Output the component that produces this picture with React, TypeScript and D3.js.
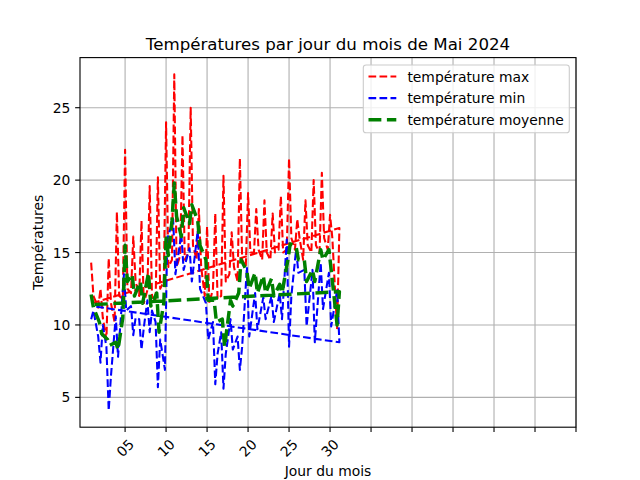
import React from "react";
import * as d3 from "d3";

// ---- Data ----
const jours = [1, 2, 3, 4, 5, 6, 7, 8, 9, 10, 11, 12, 13, 14, 15, 16, 17, 18, 19, 20, 21, 22, 23, 24, 25, 26, 27, 28, 29, 30, 31];

// values visited for each day, in order (several readings per day)
const tMax: number[][] = [
  [14.3, 12.0], [11.2, 12.5, 10.5], [9.0, 14.6, 11.5], [10.2, 17.8, 12.0], [11.8, 22.1, 12.5],
  [12.2, 16.1, 13.0], [12.0, 17.2, 11.5], [12.4, 19.6, 12.0], [11.6, 20.2, 12.5], [13.0, 24.0, 14.0],
  [14.5, 27.3, 14.0], [14.8, 23.1, 14.5], [15.0, 25.0, 15.5], [14.5, 18.0, 14.0], [12.0, 16.8, 11.5],
  [12.5, 17.7, 11.8], [12.0, 20.3, 13.0], [13.5, 16.4, 14.0], [13.0, 21.5, 14.5], [14.0, 19.1, 15.0],
  [15.0, 18.0, 15.2], [14.5, 18.6, 15.0], [14.5, 17.7, 15.0], [15.2, 18.9, 15.0], [15.2, 21.5, 16.0],
  [15.2, 17.3, 16.0], [14.5, 18.6, 15.5], [15.0, 20.0, 15.5], [15.0, 20.5, 16.0], [15.2, 17.6, 16.0],
  [9.7, 16.7],
];
const tMaxRetour = 11.5;

const tMin: number[][] = [
  [10.4, 11.0], [9.2, 7.4, 10.0], [8.5, 4.1, 6.5], [10.6, 7.8], [13.5, 11.0],
  [11.3, 9.3, 10.5], [10.4, 8.3, 9.8], [11.7, 9.5, 11.0], [10.2, 5.7, 9.0], [6.9, 15.9],
  [17.3, 13.5], [16.3, 13.8], [15.3, 13.0], [16.5, 12.5], [11.5, 9.0],
  [10.2, 5.9, 8.0], [9.5, 5.6, 8.0], [10.4, 8.3], [9.2, 6.9, 8.5], [14.0, 9.2],
  [12.2, 9.7], [11.9, 10.4], [12.0, 10.2], [12.2, 10.4], [15.9, 8.5, 12.0],
  [15.2, 13.6], [13.8, 9.9], [13.8, 8.8], [14.3, 11.1], [13.6, 9.9],
  [12.4, 8.8],
];
const tMinRetour = 11.3;

const tMoy: number[][] = [
  [12.1, 11.2], [10.2, 9.4], [9.0, 8.6], [8.8, 8.3], [10.5, 15.5, 13.0],
  [13.5, 12.0], [13.0, 11.5], [13.6, 11.3], [12.2, 9.5], [11.5, 16.0, 14.8],
  [17.2, 19.8, 17.5], [16.1, 18.1], [17.0, 18.3], [17.2, 15.5], [14.5, 11.7],
  [11.7, 10.2], [10.4, 8.5], [11.7, 11.3], [12.2, 14.5], [13.7, 12.5],
  [13.6, 12.2], [13.4, 12.2], [13.2, 12.0], [12.8, 12.2], [14.5, 15.6],
  [15.4, 14.5], [14.5, 13.0], [13.8, 13.0], [15.2, 14.5], [15.2, 13.8],
  [10.0, 12.3],
];
const tMoyRetour = 11.4;

// spacing (in days) between successive readings of the same day
const ecartLecture = 0.28;

const xTicks = [5, 10, 15, 20, 25, 30, 35, 40, 45, 50, 55, 60];
const xTickLabels = ["05", "10", "15", "20", "25", "30", "", "", "", "", "", ""];
const yTicks = [5, 10, 15, 20, 25];

const series = [
  { name: "température max", data: tMax, back: tMaxRetour, color: "#ff0000", lw: 2.08, dash: "7.7 3.3" },
  { name: "température min", data: tMin, back: tMinRetour, color: "#0000ff", lw: 2.08, dash: "7.7 3.3" },
  { name: "température moyenne", data: tMoy, back: tMoyRetour, color: "#008000", lw: 3.47, dash: "12.85 5.55" },
];

export default function App() {
  const left = 80, right = 576, top = 57.6, bottom = 427.2;
  const x = d3.scaleLinear().domain([-0.5, 60]).range([left, right]);
  const y = d3.scaleLinear().domain([2.94, 28.46]).range([bottom, top]);
  const font = "DejaVu Sans, sans-serif";

  const toPoints = (data: number[][], back: number): [number, number][] => {
    const pts: [number, number][] = [];
    data.forEach((vals, i) =>
      vals.forEach((v, k) => pts.push([jours[i] + (k - (vals.length - 1) / 2) * ecartLecture, v]))
    );
    pts.push([jours[0], back]);
    return pts;
  };
  const line = d3
    .line<[number, number]>()
    .x((d) => x(d[0]))
    .y((d) => y(d[1]));

  return (
    <svg width={640} height={480} style={{ position: "absolute", left: 0, top: 0 }} fontFamily={font}>
      <rect x={0} y={0} width={640} height={480} fill="#fff" />
      <defs>
        <clipPath id="plotclip">
          <rect x={left} y={top} width={right - left} height={bottom - top} />
        </clipPath>
      </defs>
      {/* grid */}
      {xTicks.map((t) => (
        <line key={"gx" + t} x1={x(t)} x2={x(t)} y1={top} y2={bottom} stroke="#b0b0b0" strokeWidth={1.11} />
      ))}
      {yTicks.map((t) => (
        <line key={"gy" + t} x1={left} x2={right} y1={y(t)} y2={y(t)} stroke="#b0b0b0" strokeWidth={1.11} />
      ))}
      {/* lines */}
      <g clipPath="url(#plotclip)">
        {series.map((s) => (
          <path
            key={s.name}
            d={line(toPoints(s.data, s.back)) || ""}
            fill="none"
            stroke={s.color}
            strokeWidth={s.lw}
            strokeDasharray={s.dash}
            strokeLinejoin="round"
          />
        ))}
      </g>
      {/* spines */}
      <rect x={left} y={top} width={right - left} height={bottom - top} fill="none" stroke="#000" strokeWidth={1.11} />
      {/* x ticks */}
      {xTicks.map((t, i) => (
        <g key={"xt" + t}>
          <line x1={x(t)} x2={x(t)} y1={bottom} y2={bottom + 4.86} stroke="#000" strokeWidth={1.11} />
          {xTickLabels[i] && (
            <text
              transform={`translate(${x(t)},${448}) rotate(-45)`}
              textAnchor="middle"
              dominantBaseline="central"
              fontSize={13.89}
              fill="#000"
            >
              {xTickLabels[i]}
            </text>
          )}
        </g>
      ))}
      {/* y ticks */}
      {yTicks.map((t) => (
        <g key={"yt" + t}>
          <line x1={left - 4.86} x2={left} y1={y(t)} y2={y(t)} stroke="#000" strokeWidth={1.11} />
          <text x={left - 9.7} y={y(t)} textAnchor="end" dominantBaseline="central" fontSize={13.89} fill="#000">
            {t}
          </text>
        </g>
      ))}
      {/* labels */}
      <text x={(left + right) / 2} y={50} textAnchor="middle" fontSize={16.67} fill="#000">
        Températures par jour du mois de Mai 2024
      </text>
      <text x={(left + right) / 2} y={476} textAnchor="middle" fontSize={13.89} fill="#000">
        Jour du mois
      </text>
      <text transform={`translate(43,${(top + bottom) / 2}) rotate(-90)`} textAnchor="middle" fontSize={13.89} fill="#000">
        Températures
      </text>
      {/* legend */}
      <g>
        <rect x={363.3} y={65} width={206} height={67.7} rx={2.8} fill="#fff" fillOpacity={0.8} stroke="#cccccc" strokeWidth={1.11} />
        {series.map((s, i) => (
          <g key={"lg" + s.name}>
            <line
              x1={368.5}
              x2={396.3}
              y1={76.5 + i * 21.6}
              y2={76.5 + i * 21.6}
              stroke={s.color}
              strokeWidth={s.lw}
              strokeDasharray={s.dash}
            />
            <text x={407.4} y={76.5 + i * 21.6} dominantBaseline="central" fontSize={13.89} fill="#000">
              {s.name}
            </text>
          </g>
        ))}
      </g>
    </svg>
  );
}
